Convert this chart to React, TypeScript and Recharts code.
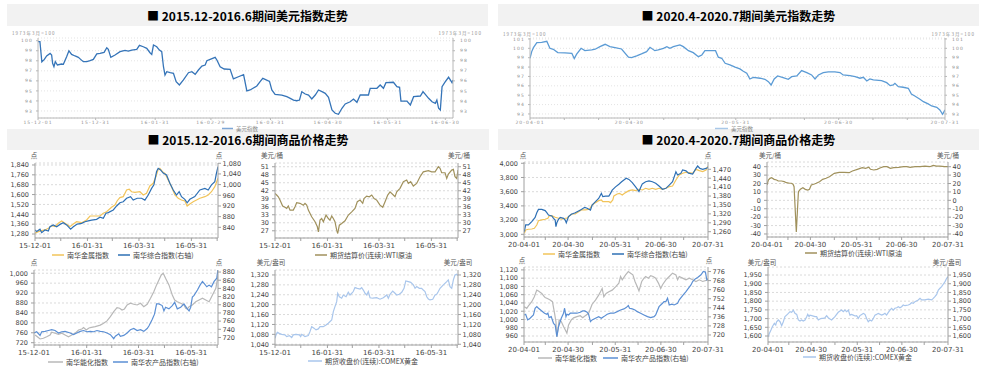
import React from 'react';
import { LineChart, Line, XAxis, YAxis, CartesianGrid } from 'recharts';

type P = [number, number];

// ---------------- x tick positions (days from first date) & labels ----------------
const ticks2016Top = [0, 30, 61, 90, 121, 151, 182, 212];
const labels2016Top = ['15-12-01', '15-12-31', '16-01-31', '16-02-29', '16-03-31', '16-04-30', '16-05-31', '16-06-30'];
const ticks2016 = [0, 30, 61, 90, 121, 151, 182, 212];
const labels2016 = ['15-12-01', '', '16-01-31', '', '16-03-31', '', '16-05-31', ''];
const ticks2020Top = [0, 10, 20, 29, 39, 49, 60, 70, 80, 90, 100, 110, 121];
const labels2020Top = ['20-04-01', '', '', '20-04-30', '', '', '20-05-31', '', '', '20-06-30', '', '', '20-07-31'];
const ticks2020 = [0, 14, 29, 45, 60, 75, 90, 105, 121];
const labels2020 = ['20-04-01', '', '20-04-30', '', '20-05-31', '', '20-06-30', '', '20-07-31'];

// ---------------- y ticks ----------------
const dxyTicks16 = [93, 94, 95, 96, 97, 98, 99, 100];
const dxyTicks20 = [93, 94, 95, 96, 97, 98, 99, 100, 101];
const metalTicks16 = [1280, 1360, 1440, 1520, 1600, 1680, 1760, 1840];
const compTicks16 = [840, 880, 920, 960, 1000, 1040, 1080];
const wtiTicks16 = [27, 30, 33, 36, 39, 42, 45, 48, 51];
const metalTicks20 = [3000, 3200, 3400, 3600, 3800, 4000];
const compTicks20 = [1260, 1290, 1320, 1350, 1380, 1410, 1440, 1470];
const wtiTicks20 = [-40, -30, -20, -10, 0, 10, 20, 30, 40];
const energyTicks16 = [720, 760, 800, 840, 880, 920, 960, 1000];
const agriTicks16 = [720, 740, 760, 780, 800, 820, 840, 860, 880];
const goldTicks16 = [1040, 1080, 1120, 1160, 1200, 1240, 1280, 1320];
const energyTicks20 = [960, 980, 1000, 1020, 1040, 1060, 1080, 1100, 1120];
const agriTicks20 = [720, 728, 736, 744, 752, 760, 768, 776];
const goldTicks20 = [1600, 1650, 1700, 1750, 1800, 1850, 1900, 1950];

// ---------------- series: [day, value] ----------------
const dxy2016: P[] = [[0,99.9],[1,99.9],[2,97.9],[3.3,98.14],[4.5,98.48],[6.3,98.74],[7.1,98.58],[7.6,97.75],[8.3,97.41],[9,97.91],[10.1,97.58],[12.3,97.68],[13.2,97.65],[14.9,98.41],[16.1,99.0],[17.5,98.64],[19.3,98.48],[21,98.34],[22.2,98.14],[23.6,97.91],[25.4,97.91],[27.1,98.01],[28.8,98.14],[30.6,98.68],[32.3,98.74],[34.4,98.84],[35.8,99.3],[36.6,99.14],[37.9,98.34],[40.1,98.58],[42.7,98.91],[45.3,99.04],[47,98.97],[48.8,99.07],[51.4,99.14],[52.8,99.54],[54.8,99.4],[56.6,99.24],[58.3,98.8],[59.2,98.64],[60.1,99.57],[61.8,99.4],[63.2,99.07],[64.4,98.91],[65.3,97.41],[66.1,96.58],[67,96.91],[68.8,96.81],[70.5,96.75],[71.9,95.92],[73.6,95.59],[75.7,96.09],[78.3,96.81],[80.1,96.91],[81.8,96.65],[83.5,97.08],[85.3,97.48],[87,97.58],[87.9,98.01],[89.6,98.14],[92.2,98.34],[93.1,98.08],[94.8,97.41],[96.9,97.18],[100,97.15],[101.7,96.19],[104.3,96.41],[107,96.63],[108.7,95.0],[110.4,95.09],[113.9,95.49],[115.6,95.92],[117,96.25],[118.2,96.15],[120.5,95.95],[121.7,95.09],[123.4,94.66],[126.9,94.59],[129.5,94.42],[131.3,94.26],[133,94.09],[134.7,94.02],[136.1,94.09],[137.3,94.92],[139.1,94.69],[140.8,94.59],[142.5,94.19],[144.3,94.59],[146,95.09],[147.8,94.92],[149.5,94.76],[151.2,94.36],[153,93.1],[154.7,92.77],[156.4,92.67],[158.2,93.27],[159.9,93.7],[162.5,93.92],[164.2,94.19],[166,93.86],[167.7,94.59],[172,94.59],[172.9,95.26],[176.4,95.26],[178.1,95.59],[179.8,95.26],[181.1,95.82],[185,95.86],[186.8,95.42],[188.2,95.36],[188.9,93.99],[192,93.99],[193.8,93.6],[195.5,94.42],[199,94.49],[200.4,94.92],[201.6,94.66],[203.3,94.26],[205.1,93.92],[206.8,93.76],[207.6,94.09],[208.5,93.27],[209.4,93.1],[210.3,95.42],[212,95.92],[213.7,96.36],[215.5,95.82],[216,96.09]];

const dxy2020: P[] = [[0,98.94],[0.5,99.65],[1,100.07],[2,100.61],[3.4,100.64],[4.9,100.75],[5.8,100.0],[6.8,99.9],[8.1,99.54],[10.2,99.51],[12.2,99.47],[12.9,98.9],[13.6,99.37],[14.9,100.0],[16,99.75],[18,99.83],[19,99.9],[20.4,100.18],[21.9,100.43],[23.3,100.18],[24.8,100.07],[26.7,99.93],[28.7,99.05],[29.6,99.01],[31.1,99.19],[32.5,99.4],[34,99.65],[35,100.11],[36.4,99.75],[37.4,99.83],[38.9,100.0],[39.9,100.18],[40.8,100.0],[41.8,100.18],[43.7,100.36],[44.7,100.18],[46.2,99.75],[47.6,99.54],[49.1,99.11],[50.1,99.29],[51,99.75],[54.1,99.75],[54.9,99.05],[55.9,98.94],[56.9,98.4],[58.3,98.23],[59.8,98.0],[61.2,97.8],[62.2,97.55],[63.2,97.34],[64.1,96.73],[65.1,96.91],[67.1,96.81],[68.5,96.7],[69.5,96.45],[70.3,96.09],[71.2,96.73],[72.2,97.05],[73.8,96.87],[75.3,96.7],[76.3,96.98],[77.8,97.05],[79.2,97.62],[80.7,97.41],[82.1,97.16],[83.1,96.73],[84.1,97.16],[85.5,97.41],[87,97.48],[88.9,97.48],[90.4,97.41],[91.3,97.16],[93.3,97.09],[94.8,96.98],[96.2,96.81],[97.2,96.91],[98.2,96.52],[99.1,96.73],[100.1,96.63],[102.5,96.55],[104,96.34],[105,96.02],[105.9,96.09],[106.4,96.27],[107.4,95.91],[108.8,95.85],[110.3,95.74],[111.2,95.13],[112.2,94.92],[113.7,94.57],[114.7,94.31],[116.1,94.07],[117.1,93.85],[118.6,93.71],[119.5,93.43],[120.3,92.97],[121,93.43]];

const metal2016: P[] = [[0,1286],[3.9,1299],[7.8,1307],[11.6,1313],[15.5,1326],[19.4,1348],[23.3,1340],[27.1,1367],[31,1386],[34.9,1367],[40.7,1340],[44.6,1361],[48.4,1380],[54.3,1372],[60.1,1394],[64,1426],[75.6,1426],[79.5,1448],[83.3,1461],[89.1,1497],[93,1515],[95.7,1550],[98.8,1575],[102.7,1583],[106.6,1637],[109.7,1643],[112.4,1623],[116.3,1618],[122.1,1623],[126,1597],[129.8,1610],[133.7,1670],[137.6,1691],[140.7,1745],[143.4,1805],[145.3,1813],[148.4,1786],[151.2,1772],[155,1718],[158.9,1664],[162.8,1597],[166.7,1570],[170.5,1556],[174.4,1548],[177.1,1507],[180.2,1524],[184.1,1542],[188,1556],[191.9,1570],[197.7,1583],[201.6,1597],[205.4,1623],[209.3,1664],[213,1732]];

const comp2016: P[] = [[0,830],[2,824],[5.8,833],[7.8,820],[11.6,830],[15.5,826],[17.4,842],[21.3,849],[25.2,842],[29.1,851],[32.9,857],[36.8,849],[41.5,833],[44.6,842],[49.2,852],[54.3,855],[58.1,861],[62,864],[65.9,867],[71.7,870],[75.6,878],[79.5,874],[82.6,893],[85.3,895],[91.1,905],[95,920],[98.8,932],[102.7,936],[106.6,949],[111.2,955],[114.3,942],[119,949],[124,949],[127.9,942],[131.8,961],[135.7,986],[138.4,999],[141.5,1049],[143.4,1061],[146.1,1055],[149.2,1043],[153.1,1036],[157,1005],[160.9,980],[164.7,961],[167.8,974],[170.5,955],[174.4,945],[177.1,932],[180.2,945],[186,955],[191.9,980],[197.7,986],[201.6,980],[205.4,999],[209.3,1011],[211.2,1043],[213,1067]];

const wti2016: P[] = [[0,41.0],[1.9,40.4],[3.9,39.75],[5.8,38.5],[8.9,36.3],[11.6,35.8],[13.6,35.4],[15.5,36.3],[17.5,34.75],[21.3,34.75],[23.3,36.0],[25.2,37.5],[29.1,37.3],[33,36.6],[34.9,37.3],[36.9,36.6],[38.8,34.75],[42.7,32.25],[46.6,30.4],[49.3,28.5],[50.5,26.6],[52.4,31.0],[54.3,31.6],[56.3,30.4],[59.4,32.9],[62.1,31.6],[64,31.0],[66,32.5],[67.9,31.6],[69.8,30.4],[71.8,27.25],[73,26.0],[74.9,29.1],[77.6,29.75],[81.5,30.75],[85.4,32.9],[89.3,34.1],[93.1,35.4],[95.8,37.9],[99,38.5],[102.1,37.3],[103.6,39.1],[106.7,40.0],[109.8,39.75],[112.6,40.4],[115.3,39.1],[118.4,38.5],[122.2,36.6],[125.4,35.8],[128.1,37.9],[131.2,40.4],[133.9,41.6],[137.7,40.4],[139.7,39.75],[141.7,41.6],[145.5,42.9],[149.4,45.4],[153.3,46.0],[155.2,44.75],[157.9,45.4],[161,43.75],[164.9,44.75],[168.8,47.25],[172.6,49.1],[178.5,49.5],[182.3,49.1],[186.3,49.1],[190.1,51.0],[192.1,50.4],[194,48.75],[197.9,48.75],[199.9,46.6],[201.8,48.25],[205.7,49.75],[207.6,50.0],[209.5,47.25],[211.5,46.6],[213,49.75]];

const metal2020: P[] = [[0.2,3014],[1.1,3061],[2.9,3071],[5.1,3075],[6.8,3085],[8.4,3131],[9.5,3192],[11.7,3202],[13.9,3212],[15.7,3226],[16.5,3258],[18.3,3263],[20.5,3240],[22.7,3226],[24.9,3212],[27.1,3226],[28.2,3226],[29.8,3258],[31.5,3286],[33.7,3286],[35.9,3319],[37.7,3343],[40.3,3343],[43,3352],[44.8,3413],[47,3446],[49.1,3474],[50.9,3483],[51.8,3460],[53.6,3460],[55.8,3460],[56.9,3446],[58.4,3483],[59.1,3540],[61.3,3568],[62.8,3577],[64.6,3554],[66.8,3587],[69,3615],[71.2,3624],[73.4,3615],[75.6,3634],[77.8,3624],[80,3648],[82.2,3634],[84.4,3648],[86.6,3634],[88.8,3648],[91.1,3634],[93.3,3648],[95.5,3671],[97.7,3680],[99.9,3765],[102.1,3835],[104.3,3859],[106.5,3873],[108.7,3868],[110.9,3859],[113.1,3915],[115.3,3897],[117.5,3883],[119.7,3906],[121,3960]];

const comp2020: P[] = [[0.2,1260],[1.1,1283],[2.9,1283],[5.1,1294],[7.3,1308],[8.4,1324],[9.5,1335],[11.7,1335],[13.9,1331],[15,1324],[16.1,1316],[18.3,1313],[19.4,1305],[20.5,1299],[21,1277],[21.6,1290],[22.7,1302],[23.8,1308],[26,1305],[27.1,1299],[27.8,1290],[29.3,1311],[31.1,1319],[33.7,1324],[35.9,1330],[37.7,1335],[39.9,1342],[41.5,1339],[43.7,1333],[44.8,1350],[47,1361],[49.1,1372],[50.9,1389],[51.8,1378],[53.6,1380],[55.8,1380],[56.9,1389],[58,1400],[60.2,1411],[62.4,1420],[64.2,1428],[65.7,1434],[67.2,1440],[69,1436],[71.2,1425],[73.4,1411],[74.5,1403],[75.6,1395],[76.7,1409],[77.8,1421],[80,1428],[82.2,1431],[84.4,1428],[86.6,1423],[88.8,1414],[91.1,1403],[93.3,1406],[95.5,1417],[97.7,1428],[99.9,1462],[101,1451],[103.2,1457],[104.3,1468],[106.5,1465],[108.2,1457],[110.9,1454],[113.1,1473],[114.2,1481],[115.7,1473],[117.5,1470],[119.7,1473],[121,1477]];

const wti2020: P[] = [[0,18.2],[0.9,24.2],[2,26.2],[3.1,26.9],[4.8,25],[6.4,24.2],[7.5,23],[9.7,23],[11.5,22.2],[13,21],[15.2,20.3],[16.3,20.3],[17.4,19.1],[18.1,16.2],[19.6,-37.6],[21,10.3],[22.3,13.1],[24,15],[25.6,13.1],[27.3,12.3],[28.4,13.1],[29.6,18.2],[31.7,19.4],[32.9,20.3],[35.1,22.2],[37.2,25],[39.5,26.2],[41.7,28.1],[45,32.1],[48.3,33.3],[51.6,33.3],[54.9,32.9],[57.1,34.9],[60.4,36.9],[63.7,38.8],[65.9,38.1],[68.1,39.3],[69.2,36.9],[71.4,36.1],[73.6,36.9],[75.9,38.8],[78,40],[80.2,40],[82.5,38.1],[84.7,38.8],[88,39.3],[91.3,40],[93.5,40],[95.7,39.3],[99,40],[102.3,40],[105.6,40.8],[108.9,40],[111.1,41.6],[113.3,40.8],[115.5,40.8],[118.8,40],[121,40]];

const energy2016: P[] = [[1.2,751],[3.9,744],[7,735],[10.8,738],[14.7,744],[18.6,751],[20.5,762],[24.4,758],[28.3,754],[32.2,758],[36,751],[39.9,744],[43.8,751],[47.7,758],[51.6,771],[55.4,775],[57.4,781],[60.5,771],[63.2,778],[65.1,781],[70.9,785],[76.7,791],[80.6,798],[84.5,808],[88.4,825],[92.3,845],[96.1,861],[99.2,859],[101.9,852],[104.7,856],[107.8,872],[111.6,879],[115.5,875],[119.4,872],[123.3,879],[127.1,865],[131,875],[134.9,899],[138.8,926],[141.9,953],[144.6,973],[147.3,993],[149.6,1000],[152.3,980],[156.2,953],[160.1,912],[162.8,892],[165.9,885],[169.8,879],[173.6,872],[175.6,859],[177.5,856],[179.5,865],[183.3,872],[187.2,885],[191.1,892],[195,899],[198.8,892],[202.7,885],[206.6,912],[210.5,939],[213,990]];

const agri2016: P[] = [[0,731],[3.1,734],[7,725],[8.9,734],[12.8,735],[16.7,737],[20.5,739],[24.4,737],[28.3,731],[32.2,734],[36,735],[41.9,731],[45.7,727],[49.6,731],[53.5,735],[57.4,737],[61.2,734],[65.1,735],[69,734],[72.9,737],[76.7,735],[80.6,734],[84.5,731],[88.4,727],[92.3,717],[94.2,723],[98.1,729],[100,723],[103.9,725],[107.8,731],[111.6,739],[115.5,742],[119.4,737],[123.3,739],[127.1,735],[131,742],[133,748],[136.8,764],[139.5,777],[141.9,802],[144.6,802],[148.4,798],[150.4,785],[152.3,794],[156.2,790],[160.1,798],[162.8,806],[165.9,790],[169.8,794],[173.6,802],[177.5,790],[179.5,785],[181.4,794],[183.3,819],[185.3,823],[189.2,836],[192.2,848],[195,857],[196.9,852],[200,844],[202.7,848],[205.4,844],[208.5,857],[211.6,865],[213,888]];

const gold2016: P[] = [[0,1064],[1.2,1078],[2.7,1088],[5,1084],[7.8,1080],[11.6,1078],[13.6,1071],[16.7,1075],[19.4,1067],[21.3,1078],[24.4,1080],[28.3,1078],[29.9,1071],[31.1,1080],[34.9,1071],[38.8,1075],[40.7,1091],[42.7,1111],[45.4,1105],[47.7,1098],[50.4,1102],[52.4,1111],[56.2,1111],[59.4,1118],[62,1125],[66,1138],[67.9,1172],[69.8,1192],[71.8,1212],[73,1246],[74.9,1232],[77.6,1226],[79.5,1239],[82.7,1232],[85.3,1250],[87.3,1239],[89.3,1246],[91.1,1253],[93.1,1269],[95.8,1266],[99,1263],[100.9,1269],[102.8,1259],[104.8,1246],[106.8,1239],[108.6,1253],[110.6,1228],[113.7,1226],[118.4,1228],[122.2,1222],[126.1,1228],[130.1,1239],[131.9,1226],[133.9,1242],[137,1255],[139.7,1246],[141.7,1239],[144.7,1242],[147.5,1250],[150.2,1266],[152.2,1296],[155.2,1293],[158,1290],[161,1280],[163,1266],[164.9,1273],[168,1266],[170.7,1266],[172.6,1259],[174.6,1253],[176.6,1232],[178.5,1223],[180.4,1219],[183.6,1222],[186.3,1239],[188.2,1242],[190.1,1253],[192.1,1266],[195.9,1280],[199.9,1293],[201.7,1300],[203.7,1273],[205.7,1266],[207.6,1300],[209.5,1320],[211.5,1323],[213,1317]];

const energy2020: P[] = [[0.2,1031],[1.8,1027],[2.9,1033],[5.1,1043],[6.8,1055],[8.4,1071],[9.5,1069],[11.7,1063],[12.8,1058],[13.9,1053],[15.7,1050],[17.2,1047],[18.7,1043],[20.1,1015],[21,995],[21.6,958],[22.3,975],[23.1,999],[24.5,995],[26,983],[27.1,975],[28.2,967],[29.3,987],[31.1,999],[32.6,1004],[34.8,1007],[37,1009],[38.6,1004],[40.3,1009],[42.5,1015],[44.8,1037],[47,1047],[49.1,1059],[50.3,1067],[51.4,1075],[52.5,1055],[54,1063],[55.8,1067],[58,1071],[60.2,1079],[62.4,1088],[63.5,1104],[64.6,1096],[66.8,1108],[68.6,1116],[70.1,1112],[71.6,1108],[73,1092],[74.5,1079],[75.6,1069],[77.4,1092],[78.9,1100],[80,1104],[81.8,1100],[83.3,1106],[84.9,1104],[86.6,1100],[88.4,1088],[89.9,1075],[91.1,1084],[93.3,1096],[95.5,1104],[97.7,1112],[99.9,1108],[101,1096],[102.1,1104],[104.3,1100],[106.5,1096],[108.7,1100],[110.9,1096],[113.1,1092],[115.3,1096],[117.5,1092],[120.9,1096],[121,1100]];

const agri2020: P[] = [[0.2,737.7],[1.1,738.3],[2.4,733.3],[4,734.8],[6.2,737.7],[7.3,743.6],[8.4,745],[9.5,743.6],[11.7,741.2],[13.5,739.2],[15,738.3],[15.7,739.2],[16.5,735.3],[17.9,736.2],[19.4,730.3],[20.5,728.8],[21.6,718.5],[22.7,727.3],[24.5,734.8],[26,739.2],[26.7,743.6],[27.6,736.2],[28.2,738.3],[29.3,737.7],[30.4,739.2],[32.6,739.2],[34.8,739.2],[37,740.1],[38.6,741.2],[39.9,741.2],[41.5,740.1],[42.5,738.3],[43.7,731.8],[44.8,733.3],[47,734.8],[49.1,736.2],[50.9,734.8],[52.5,736.2],[54.7,738.3],[56.9,739.2],[59.1,739.2],[61.3,740.6],[63.5,742.1],[65.7,743],[67.2,744.2],[68.6,746],[69.4,743.6],[71.2,743],[73,742.1],[74.5,740.6],[76.7,739.2],[78.9,737.7],[81.2,736.2],[83.3,735.3],[85.5,736.2],[86.6,737.7],[88.8,745],[91.1,748],[92.1,749.5],[93.3,749.5],[94.4,752.5],[95.5,746.5],[97.2,747.2],[98.7,746.5],[101,748],[102.1,751],[104.3,754.8],[106.5,758.3],[108.2,761.3],[109.8,764.2],[110.9,767.2],[112.6,769.5],[114.2,770.7],[116.4,773.1],[117.9,776],[119.3,775.5],[120.2,768.7],[121,769.5]];

const gold2020: P[] = [[0.2,1596],[0.9,1615],[2,1634],[2.9,1653],[4.3,1673],[5.2,1663],[5.8,1682],[6.9,1692],[8.1,1682],[9.2,1659],[10.3,1682],[11.4,1711],[12.5,1720],[13.7,1730],[14.8,1740],[15.9,1736],[17,1749],[18.1,1730],[19.3,1724],[20.4,1692],[21.5,1686],[22.6,1692],[23.7,1686],[24.9,1692],[26,1711],[26.7,1724],[27.6,1711],[28.2,1720],[29.4,1717],[31.6,1711],[32.7,1711],[33.8,1692],[34.9,1698],[36.1,1701],[37.2,1701],[38.3,1705],[39.4,1717],[40.5,1705],[41.7,1698],[42.8,1692],[45,1711],[47.2,1736],[48.4,1743],[49.5,1749],[50.6,1740],[51.7,1749],[52.9,1740],[54,1749],[55.1,1720],[56.2,1724],[57.3,1720],[58.5,1715],[59.6,1717],[60.7,1701],[61.8,1717],[63,1724],[64.1,1730],[65.2,1724],[66.3,1701],[67.4,1682],[68.5,1692],[69.7,1686],[70.8,1701],[71.9,1720],[73,1724],[74.1,1730],[76.4,1720],[77.5,1724],[78.6,1730],[79.7,1720],[80.9,1736],[82,1749],[83.1,1759],[84.2,1749],[85.3,1759],[86.5,1762],[87.6,1768],[88.7,1762],[89.8,1768],[90.9,1778],[92.1,1774],[94.3,1778],[95.4,1782],[96.5,1791],[97.7,1788],[98.8,1797],[101,1807],[102.2,1816],[103.3,1807],[105.5,1807],[107.7,1812],[110,1807],[111.1,1816],[112.2,1826],[113.4,1839],[114.5,1864],[115.6,1874],[116.7,1883],[117.8,1897],[119,1912],[120.1,1931],[121,1940]];

// ---------------- colours ----------------
const C_DXY16 = '#3574b8';
const C_DXY20 = '#5b9bd5';
const C_METAL = '#f2c45a';
const C_COMP = '#2e70b5';
const C_WTI = '#a0915c';
const C_ENERGY = '#b8b8b8';
const C_AGRI = '#5b8fd4';
const C_GOLD = '#a9c6ec';

const FONT_CJK = '"Noto Sans CJK SC", "Noto Sans", sans-serif';
const FONT_NUM = '"DejaVu Sans", sans-serif';

const fmtNum = (v: number) => {
  const s = Math.abs(v).toString().replace(/\B(?=(\d{3})+(?!\d))/g, ',');
  return v < 0 ? '-' + s : s;
};

type Axis = { domain: [number, number]; ticks: number[] };
type Ser = { data: P[]; color: string; axis: 'l' | 'r'; w?: number };
type Cfg = {
  pl: number; pr: number; pt: number; pb: number;
  xMax: number; xTicks: number[]; xLabels: string[];
  l: Axis; r: Axis; series: Ser[]; small?: boolean;
};

function Panel({ c }: { c: Cfg }) {
  const WL = 40, WR = 40, MT = 3, HX = 16;
  const pw = c.pr - c.pl, ph = c.pb - c.pt;
  const W = pw + WL + WR, H = ph + MT + HX;
  const yfs = c.small ? 4.5 : 6.5;
  const xfs = c.small ? 4.5 : 7;
  const ls = c.small ? 1.1 : 0;
  const col = c.small ? '#8f8f8f' : '#444';
  const axisCol = c.small ? '#b8b8b8' : '#a0a0a0';
  const lab = new Map<number, string>(c.xTicks.map((t, i) => [t, c.xLabels[i]] as [number, string]));
  const xTick = (p: any) => {
    const s = lab.get(p.payload.value);
    if (!s) return <g />;
    return (
      <text x={p.x} y={p.y} dy={xfs * 0.8} textAnchor="middle" fontSize={xfs} fill={col} letterSpacing={ls} fontFamily={FONT_NUM}>{s}</text>
    );
  };
  const yTick = (anchor: 'start' | 'end') => (p: any) => (
    <text x={p.x} y={p.y} dy={yfs * 0.36} textAnchor={anchor} fontSize={yfs} fill={col} letterSpacing={ls} fontFamily={FONT_NUM}>{fmtNum(p.payload.value)}</text>
  );
  const rows = (d: P[]) => d.map(([x, v]) => ({ d: x, v }));
  return (
    <div style={{ position: 'absolute', left: c.pl - WL, top: c.pt - MT, width: W, height: H }}>
      <LineChart width={W} height={H} margin={{ top: MT, right: 0, bottom: 0, left: 0 }}>
        <CartesianGrid yAxisId="l" vertical={false} stroke={c.small ? '#e3e3e3' : '#dadada'} strokeDasharray={c.small ? '1 2' : '2 2'} />
        <XAxis dataKey="d" type="number" domain={[0, c.xMax]} ticks={c.xTicks} interval={0} height={HX}
          allowDataOverflow tick={xTick} tickSize={c.small ? 2 : 3} tickMargin={c.small ? 0 : 1}
          axisLine={{ stroke: axisCol }} tickLine={{ stroke: axisCol }} />
        <YAxis yAxisId="l" orientation="left" width={WL} type="number" domain={c.l.domain} ticks={c.l.ticks} interval={0}
          allowDataOverflow tick={yTick('end')} tickSize={c.small ? 2 : 3} tickMargin={3}
          axisLine={{ stroke: axisCol }} tickLine={{ stroke: axisCol }} />
        <YAxis yAxisId="r" orientation="right" width={WR} type="number" domain={c.r.domain} ticks={c.r.ticks} interval={0}
          allowDataOverflow tick={yTick('start')} tickSize={c.small ? 2 : 3} tickMargin={c.small ? 5 : 1.5}
          axisLine={{ stroke: axisCol }} tickLine={{ stroke: axisCol }} />
        {c.series.map((s, i) => (
          <Line key={i} yAxisId={s.axis} data={rows(s.data)} dataKey="v" type="linear" stroke={s.color}
            strokeWidth={s.w ?? 1.2} dot={false} activeDot={false} isAnimationActive={false} />
        ))}
      </LineChart>
    </div>
  );
}

const charts: Cfg[] = [
  { pl: 38, pr: 453, pt: 38, pb: 118, xMax: 216, xTicks: ticks2016Top, xLabels: labels2016Top, small: true,
    l: { domain: [92.3, 100.27], ticks: dxyTicks16 }, r: { domain: [92.3, 100.27], ticks: dxyTicks16 },
    series: [{ data: dxy2016, color: C_DXY16, axis: 'l', w: 1.3 }] },
  { pl: 530, pr: 945, pt: 38, pb: 118, xMax: 121, xTicks: ticks2020Top, xLabels: labels2020Top, small: true,
    l: { domain: [92.57, 101.1], ticks: dxyTicks20 }, r: { domain: [92.57, 101.1], ticks: dxyTicks20 },
    series: [{ data: dxy2020, color: C_DXY20, axis: 'l', w: 1.3 }] },
  { pl: 35, pr: 218, pt: 163, pb: 238, xMax: 213, xTicks: ticks2016, xLabels: labels2016,
    l: { domain: [1247.7, 1856], ticks: metalTicks16 }, r: { domain: [800, 1081], ticks: compTicks16 },
    series: [{ data: metal2016, color: C_METAL, axis: 'l' }, { data: comp2016, color: C_COMP, axis: 'r' }] },
  { pl: 275, pr: 458, pt: 163, pb: 238, xMax: 213, xTicks: ticks2016, xLabels: labels2016,
    l: { domain: [24.3, 52.4], ticks: wtiTicks16 }, r: { domain: [24.3, 52.4], ticks: wtiTicks16 },
    series: [{ data: wti2016, color: C_WTI, axis: 'l' }] },
  { pl: 524, pr: 708, pt: 162, pb: 237, xMax: 121, xTicks: ticks2020, xLabels: labels2020,
    l: { domain: [2962, 4018], ticks: metalTicks20 }, r: { domain: [1242.2, 1494.6], ticks: compTicks20 },
    series: [{ data: metal2020, color: C_METAL, axis: 'l' }, { data: comp2020, color: C_COMP, axis: 'r' }] },
  { pl: 767, pr: 948, pt: 162, pb: 237, xMax: 121, xTicks: ticks2020, xLabels: labels2020,
    l: { domain: [-43.6, 45.6], ticks: wtiTicks20 }, r: { domain: [-43.6, 45.6], ticks: wtiTicks20 },
    series: [{ data: wti2020, color: C_WTI, axis: 'l' }] },
  { pl: 34, pr: 218, pt: 270, pb: 345, xMax: 213, xTicks: ticks2016, xLabels: labels2016,
    l: { domain: [710.7, 1013], ticks: energyTicks16 }, r: { domain: [701.6, 885], ticks: agriTicks16 },
    series: [{ data: energy2016, color: C_ENERGY, axis: 'l' }, { data: agri2016, color: C_AGRI, axis: 'r' }] },
  { pl: 275, pr: 458, pt: 270, pb: 345, xMax: 213, xTicks: ticks2016, xLabels: labels2016,
    l: { domain: [1037, 1340], ticks: goldTicks16 }, r: { domain: [1037, 1340], ticks: goldTicks16 },
    series: [{ data: gold2016, color: C_GOLD, axis: 'l' }] },
  { pl: 524, pr: 708, pt: 267, pb: 342, xMax: 121, xTicks: ticks2020, xLabels: labels2020,
    l: { domain: [945.5, 1127], ticks: energyTicks20 }, r: { domain: [713.8, 780], ticks: agriTicks20 },
    series: [{ data: energy2020, color: C_ENERGY, axis: 'l' }, { data: agri2020, color: C_AGRI, axis: 'r' }] },
  { pl: 768, pr: 948, pt: 267, pb: 342, xMax: 121, xTicks: ticks2020, xLabels: labels2020,
    l: { domain: [1565.6, 1996], ticks: goldTicks20 }, r: { domain: [1565.6, 1996], ticks: goldTicks20 },
    series: [{ data: gold2020, color: C_GOLD, axis: 'l' }] },
];

const titles = [
  { x: 7, y: 4, w: 481, h: 22, text: '■ 2015.12-2016.6期间美元指数走势' },
  { x: 498, y: 4, w: 481, h: 22, text: '■ 2020.4-2020.7期间美元指数走势' },
  { x: 7, y: 129, w: 482, h: 21, text: '■ 2015.12-2016.6期间商品价格走势' },
  { x: 498, y: 129, w: 481, h: 21, text: '■ 2020.4-2020.7期间商品价格走势' },
];

type Lg = { x: number; y: number; color: string; text: string; lw?: number; fs?: number; tc?: string };
const legends: Lg[] = [
  { x: 222, y: 128.5, color: '#7ea7d6', text: '美元指数', lw: 11, fs: 5.5, tc: '#888' },
  { x: 715, y: 128.5, color: '#a9c8e8', text: '美元指数', lw: 13, fs: 5.5, tc: '#888' },
  { x: 52, y: 255, color: C_METAL, text: '南华金属指数' },
  { x: 118, y: 255, color: C_COMP, text: '南华综合指数(右轴)' },
  { x: 315, y: 255, color: C_WTI, text: '期货结算价(连续):WTI原油' },
  { x: 543, y: 254, color: C_METAL, text: '南华金属指数' },
  { x: 612, y: 254, color: C_COMP, text: '南华综合指数(右轴)' },
  { x: 805, y: 253, color: C_WTI, text: '期货结算价(连续):WTI原油' },
  { x: 48, y: 362, color: C_ENERGY, text: '南华能化指数', lw: 15 },
  { x: 113, y: 362, color: C_AGRI, text: '南华农产品指数(右轴)', lw: 15 },
  { x: 308, y: 361, color: C_GOLD, text: '期货收盘价(连续):COMEX黄金', lw: 14 },
  { x: 538, y: 358, color: C_ENERGY, text: '南华能化指数', lw: 14 },
  { x: 603, y: 358, color: C_AGRI, text: '南华农产品指数(右轴)', lw: 15 },
  { x: 803, y: 357, color: C_GOLD, text: '期货收盘价(连续):COMEX黄金', lw: 13 },
];

type Un = { x: number; y: number; text: string; anchor?: 'start' | 'middle' | 'end'; small?: boolean };
const units: Un[] = [
  { x: 12, y: 33, text: '1973年3月=100', anchor: 'start', small: true },
  { x: 482, y: 33, text: '1973年3月=100', anchor: 'end', small: true },
  { x: 503, y: 34, text: '1973年3月=100', anchor: 'start', small: true },
  { x: 975, y: 34, text: '1973年3月=100', anchor: 'end', small: true },
  { x: 34, y: 155, text: '点' }, { x: 219, y: 155, text: '点' },
  { x: 272, y: 155, text: '美元/桶' }, { x: 459, y: 155, text: '美元/桶' },
  { x: 523, y: 155, text: '点' }, { x: 708, y: 155, text: '点' },
  { x: 770, y: 155, text: '美元/桶' }, { x: 948, y: 155, text: '美元/桶' },
  { x: 34, y: 262, text: '点' }, { x: 219, y: 262, text: '点' },
  { x: 271, y: 262, text: '美元/盎司' }, { x: 458, y: 262, text: '美元/盎司' },
  { x: 522, y: 260, text: '点' }, { x: 709, y: 260, text: '点' },
  { x: 762, y: 262, text: '美元/盎司' }, { x: 947, y: 262, text: '美元/盎司' },
];

export default function App() {
  return (
    <div style={{ position: 'absolute', left: 0, top: 0, width: 982, height: 366, background: '#fff', overflow: 'hidden' }}>
      <svg width={982} height={366} style={{ position: 'absolute', left: 0, top: 0 }}>
        {titles.map((t, i) => (
          <g key={i}>
            <rect x={t.x} y={t.y} width={t.w} height={t.h} fill="#f2f2f2" />
            <text x={t.x + t.w / 2} y={t.y + t.h / 2} textAnchor="middle" dominantBaseline="central"
              fontSize={12} fontWeight={700} fill="#000" fontFamily={FONT_CJK}>{t.text}</text>
          </g>
        ))}
      </svg>
      {charts.map((c, i) => <Panel key={i} c={c} />)}
      <svg width={982} height={366} style={{ position: 'absolute', left: 0, top: 0, pointerEvents: 'none' }}>
        {units.map((u, i) => (
          <text key={i} x={u.x} y={u.y} textAnchor={u.anchor ?? 'middle'} dominantBaseline="central"
            fontSize={u.small ? 4.5 : 6.5} letterSpacing={u.small ? 1.1 : 0} fill={u.small ? '#8f8f8f' : '#555'}
            fontFamily={FONT_CJK}>{u.text}</text>
        ))}
        {legends.map((l, i) => {
          const lw = l.lw ?? 12;
          const fs = l.fs ?? 7;
          return (
            <g key={i}>
              <line x1={l.x} x2={l.x + lw} y1={l.y} y2={l.y} stroke={l.color} strokeWidth={1.5} />
              <text x={l.x + lw + 3} y={l.y} dominantBaseline="central" fontSize={fs} fill={l.tc ?? '#444'} fontFamily={FONT_CJK}>{l.text}</text>
            </g>
          );
        })}
      </svg>
    </div>
  );
}
